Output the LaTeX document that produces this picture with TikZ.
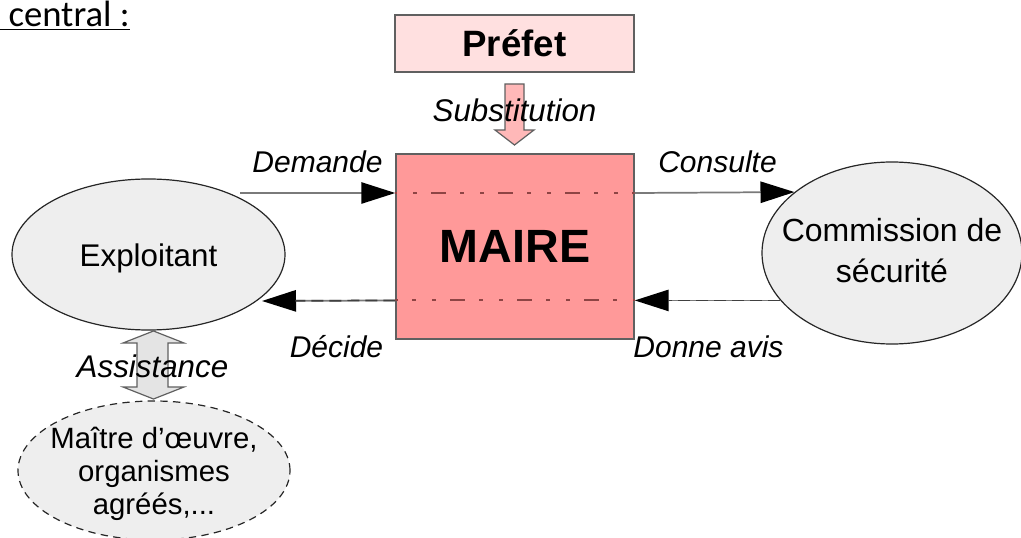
\documentclass[tikz,border=0pt]{standalone}
\usepackage{fontspec}
\setmainfont{Liberation Sans}
\newfontfamily\calfont{Carlito}
\usetikzlibrary{arrows.meta,shapes.geometric}

\definecolor{maireRed}{HTML}{FF9999}
\definecolor{prefetPink}{HTML}{FFE0E0}
\definecolor{substPink}{HTML}{FFB8B8}
\definecolor{ellGray}{HTML}{EEEEEE}
\definecolor{assistGray}{HTML}{E4E4E4}
\definecolor{borderGray}{HTML}{606060}
\definecolor{lineGray}{HTML}{7A7A7A}
\definecolor{dashRed}{HTML}{8E4444}

\tikzset{
  box/.style={draw=borderGray, line width=1.1pt, inner sep=0pt},
  actor/.style={ellipse, draw=black!85, fill=ellGray, line width=0.9pt, inner sep=0pt},
  actorText/.style={inner sep=0pt, align=center},
  lbl/.style={anchor=base, inner sep=0pt, font=\fontsize{22.5pt}{27pt}\selectfont\itshape},
  conn/.style={draw=lineGray, line width=1.3pt, -{Triangle[length=25.5pt,width=16pt,color=black]}},
  connDark/.style={draw=black!75, line width=1.3pt, dash pattern=on 9pt off 4.5pt},
  inner/.style={draw=dashRed, line width=1.6pt,
    dash pattern=on 11.25pt off 10.5pt on 3pt off 12pt on 3pt off 10.5pt, dash phase=23.25pt},
  blockArrow/.style={draw=borderGray, line width=0.9pt},
}

\begin{document}
\begin{tikzpicture}[x=0.75pt, y=-0.75pt]
\useasboundingbox (0,0) rectangle (1021,538);

% heading
\node[anchor=base west, inner sep=0pt, font=\calfont\fontsize{27.5pt}{32pt}\selectfont] (title) at (0,27) {\underline{\ central :}};

% main boxes
\node[box, fill=prefetPink, minimum width=179.25pt, minimum height=42.75pt,
      font=\fontsize{27.5pt}{32pt}\selectfont\bfseries] (prefet) at (514.5,43.5) {Préfet};
\node[box, fill=maireRed, minimum width=178.5pt, minimum height=138.75pt,
      font=\fontsize{35pt}{40pt}\selectfont\bfseries] (maire) at (515,246.5) {MAIRE};

% actors
\node[actor, minimum width=204.75pt, minimum height=113.25pt] (exploitant) at (148.5,254.5) {};
\node[actor, minimum width=195pt, minimum height=136.5pt] (commission) at (892,253) {};
\node[actor, dash pattern=on 5.5pt off 4pt, minimum width=204pt, minimum height=104.25pt] (moe) at (154,470.5) {};

% actor names (base anchor sits on the last line)
\node[actorText, anchor=base, font=\fontsize{23.5pt}{28pt}\selectfont] (tExploitant) at (148.5,267) {Exploitant};
\node[actorText, anchor=base, font=\fontsize{24pt}{30.75pt}\selectfont] (tCommission) at (892,283) {Commission de\\sécurité};
\node[actorText, anchor=base, font=\fontsize{22pt}{24.75pt}\selectfont] (tMoe) at (154,514) {Maître d’œuvre,\\organismes\\agréés,...};

% substitution block arrow
\draw[blockArrow, fill=substPink] (505,84) -- (524,84) -- (524,130) -- (534,130)
  -- (514.5,145) -- (495,130) -- (505,130) -- cycle;

% assistance double block arrow
\draw[blockArrow, fill=assistGray] (153.5,331) -- (184,343) -- (168,343) -- (168,387)
  -- (184,387) -- (153.5,399) -- (123,387) -- (137,387) -- (137,343) -- (123,343) -- cycle;

% free ends of the connectors
\coordinate (demStart) at (240,193);
\coordinate (decEnd) at (262,301);
\coordinate (avisStart) at (commission.203.5);

% upper flow: request and consultation
\draw[conn] (demStart) -- (maire.west |- demStart);
\draw[inner] (maire.west |- demStart) -- (maire.east |- demStart);
\draw[conn] (maire.east |- demStart) -- (commission.148.5);

% lower flow: opinion and decision
\draw[conn] (avisStart) -- (maire.east |- avisStart);
\draw[connDark, shorten >=25pt] (avisStart) -- (maire.east |- avisStart);
\draw[inner] (maire.east |- avisStart) -- (maire.west |- avisStart);
\draw[conn] (maire.west |- avisStart) -- (decEnd);
\draw[connDark, shorten >=25pt] (maire.west |- avisStart) -- (decEnd);

% labels
\node[lbl] (lDemande) at (317.5,173) {Demande};
\node[lbl] (lConsulte) at (717.5,173) {Consulte};
\node[lbl] (lDecide) at (336.5,358) {Décide};
\node[lbl] (lAvis) at (708.5,358) {Donne avis};
\node[lbl, font=\fontsize{23.5pt}{28pt}\selectfont\itshape] (lSubst) at (514.5,122) {Substitution};
\node[lbl, font=\fontsize{23.5pt}{28pt}\selectfont\itshape] (lAssist) at (152.5,377) {Assistance};
\end{tikzpicture}
\end{document}
